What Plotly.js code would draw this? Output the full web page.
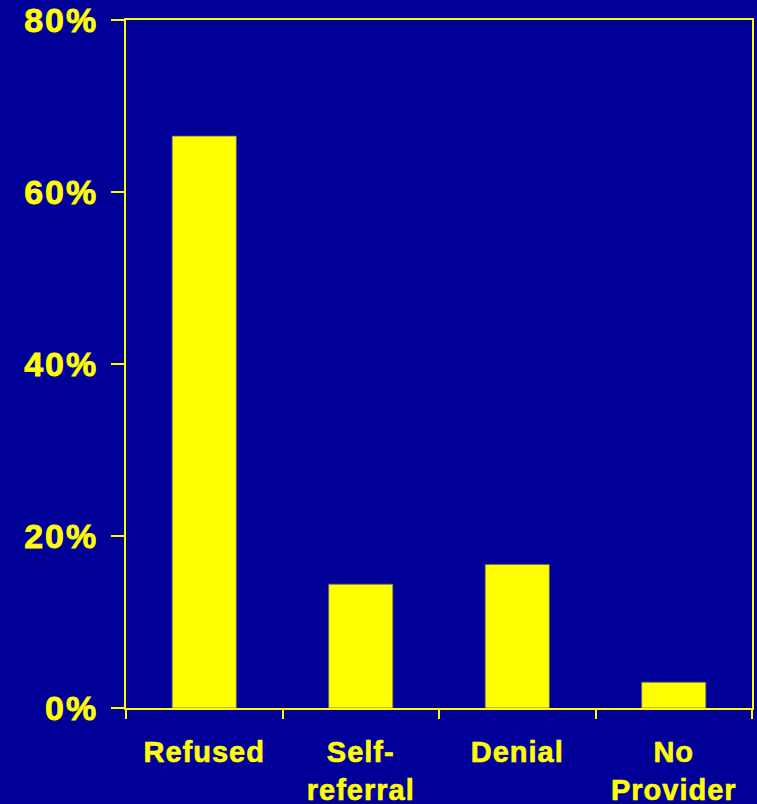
<!DOCTYPE html>
<html>
<head>
<meta charset="utf-8">
<script src="https://cdn.plot.ly/plotly-3.0.1.min.js"></script>
<style>
  html, body { margin: 0; padding: 0; background: #000099; }
  #chart { width: 757px; height: 804px; }
  #chart .ytick text { letter-spacing: 2px; stroke: #FFFF00; stroke-width: 0.8px; }
  #chart .xtick text { letter-spacing: 1px; stroke: #FFFF00; stroke-width: 0.6px; }
</style>
</head>
<body>
<div id="chart"></div>
<script>
const categories = ["Refused", "Self-<br>referral", "Denial", "No<br>Provider"];
const values = [66.5, 14.4, 16.7, 3.0];
const yTickVals = [0, 20, 40, 60, 80];
const yTickText = ["0%", "20%", "40%", "60%", "80%"];

const yellow = "#FFFF00";
const bg = "#000099";

const trace = {
  type: "bar",
  x: categories,
  y: values,
  marker: { color: yellow, line: { color: "#666666", width: 0.8 } },
  hoverinfo: "skip"
};

const layout = {
  width: 757,
  height: 804,
  paper_bgcolor: bg,
  plot_bgcolor: bg,
  margin: { l: 126, r: 5, t: 20, b: 96 },
  bargap: 0.59,
  showlegend: false,
  font: { family: "Liberation Sans, Arial, sans-serif", color: yellow },
  xaxis: {
    type: "category",
    showline: true,
    linecolor: yellow,
    linewidth: 2,
    mirror: true,
    ticks: "outside",
    tickson: "boundaries",
    ticklen: 9,
    tickwidth: 2,
    tickcolor: yellow,
    showgrid: false,
    zeroline: false,
    tickfont: { family: "Liberation Sans, Arial, sans-serif", size: 29, color: yellow, weight: "bold" },
    ticklabelstandoff: 17,
    fixedrange: true
  },
  yaxis: {
    range: [0, 80],
    tickmode: "array",
    tickvals: yTickVals,
    ticktext: yTickText,
    showline: true,
    linecolor: yellow,
    linewidth: 2,
    mirror: true,
    ticks: "outside",
    ticklen: 13,
    tickwidth: 2,
    tickcolor: yellow,
    showgrid: false,
    zeroline: false,
    tickfont: { family: "Liberation Sans, Arial, sans-serif", size: 34, color: yellow, weight: "bold" },
    ticklabelstandoff: 6,
    fixedrange: true
  }
};

Plotly.newPlot("chart", [trace], layout, { staticPlot: true, displayModeBar: false });
</script>
</body>
</html>
